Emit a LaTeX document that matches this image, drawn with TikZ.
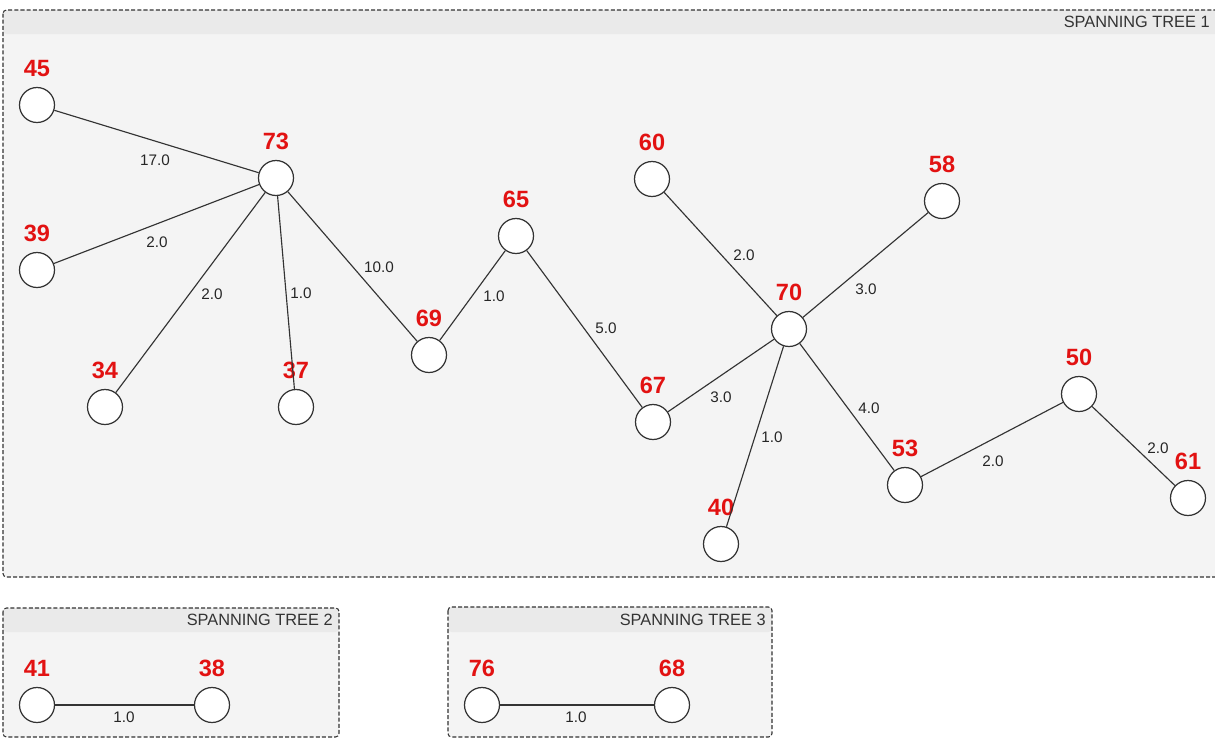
\documentclass[tikz,border=0pt]{standalone}
\usepackage{fontspec}
\setmainfont{Liberation Sans}
\usetikzlibrary{positioning}
\definecolor{treered}{RGB}{226,18,18}
\definecolor{panelfill}{RGB}{244,244,244}
\definecolor{headfill}{RGB}{234,234,234}
\definecolor{linegray}{RGB}{51,51,51}
\tikzset{
  vert/.style={circle, draw=linegray, fill=white, line width=0.7pt,
    minimum size=0.7cm, inner sep=0pt},
  vlbl/.style={text=treered, font=\fontsize{13.4}{14}\selectfont\bfseries,
    inner sep=0pt},
  elbl/.style={font=\fontsize{8.7}{10}\selectfont, text=black!85,
    inner sep=0pt},
  edge/.style={draw=linegray, line width=0.65pt},
  panelbox/.style={draw=linegray, dash pattern=on 2.3pt off 1.2pt,
    rounded corners=2pt, line width=0.6pt},
  ptitle/.style={anchor=east, font=\fontsize{9.3}{11}\selectfont,
    text=linegray, inner sep=0pt},
}

\begin{document}
\begin{tikzpicture}[x=0.02cm, y=-0.02cm]
  \clip (0,0) rectangle (1215,738);

  % Panels (left/right/top/bottom/header/title x/number)
  \foreach \l/\r/\t/\b/\h/\tx/\k in {3/1222/10/577/34/1210/1,
      3/339/608/737/632/333/2, 448/772/607/737/632/766/3} {
    \fill[panelfill, rounded corners=2pt] (\l,\t) rectangle (\r,\b);
    \fill[headfill, rounded corners=2pt] (\l,\t) rectangle (\r,\h);
    \draw[panelbox] (\l,\t) rectangle (\r,\b);
    \node[ptitle] (title\k) at (\tx,{(\t+\h)/2}) {SPANNING TREE \k};
  }

  % Vertices
  \foreach \n/\x/\y in {45/37/105, 73/276/178, 39/37/270, 34/105/407,
      37/296/407, 69/429/355, 65/516/236, 60/652/179, 67/653/422,
      70/789/329, 58/942/201, 40/721/544, 53/905/485, 50/1079/394,
      61/1188/498, 41/37/705, 38/212/705, 76/482/705, 68/672/705} {
    \node[vert] (n\n) at (\x,\y) {};
    \node[vlbl, above=0.2cm of n\n] (l\n) {\n};
  }

  % Edges with weights
  \foreach \a/\b/\w/\x/\y in {45/73/17.0/155/160, 39/73/2.0/157/242,
      34/73/2.0/212/294, 37/73/1.0/301/293, 69/73/10.0/379/267,
      69/65/1.0/494/296, 65/67/5.0/606/328, 60/70/2.0/744/255,
      58/70/3.0/866/289, 67/70/3.0/721/397, 40/70/1.0/772/437,
      53/70/4.0/869/408, 53/50/2.0/993/461, 50/61/2.0/1158/448,
      41/38/1.0/124/717, 76/68/1.0/576/717} {
    \draw[edge] (n\a) -- (n\b);
    \node[elbl] (w\a-\b) at (\x,\y) {\w};
  }
\end{tikzpicture}
\end{document}
